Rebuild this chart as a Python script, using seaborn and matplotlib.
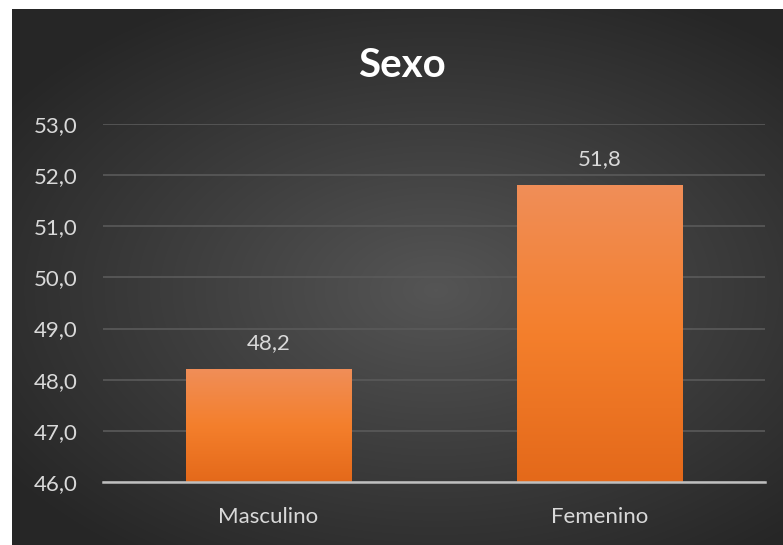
import numpy as np
import pandas as pd
import matplotlib
matplotlib.use("Agg")
import matplotlib.pyplot as plt
import seaborn as sns
from matplotlib.colors import LinearSegmentedColormap

categorias = ["Masculino", "Femenino"]
valores = [48.2, 51.8]
etiquetas_y = ["46,0", "47,0", "48,0", "49,0", "50,0", "51,0", "52,0", "53,0"]
titulo = "Sexo"

sns.set_theme(style="white")
plt.rcParams["font.family"] = ["Lato", "DejaVu Sans"]

W, H = 783, 545
fig = plt.figure(figsize=(W / 100, H / 100), dpi=100, facecolor="white")

# dark panel with a radial gradient, painted pixel by pixel behind the chart
left_margin, top_margin = 12, 9
pw, ph = W - left_margin, H - top_margin
yy, xx = np.mgrid[-1:1:ph * 1j, -1:1:pw * 1j]
r = np.sqrt(((xx - 0.1) * 0.95) ** 2 + ((yy - 0.05) * 1.05) ** 2)
bg_cmap = LinearSegmentedColormap.from_list("panel", ["#555555", "#3d3d3d", "#262626"])
panel = bg_cmap(np.clip(r / 1.3, 0, 1))[..., :3]
canvas = np.ones((H, W, 3))
canvas[top_margin:, left_margin:] = panel
fig.figimage(canvas, xo=0, yo=0, origin="upper", zorder=0)

ax = fig.add_axes([103 / W, 63 / H, 662 / W, 358 / H])
ax.set_zorder(2)
ax.patch.set_alpha(0)

df = pd.DataFrame({"categoria": categorias, "valor": valores})
sns.barplot(data=df, x="categoria", y="valor", ax=ax, width=0.5,
            color="#F07C2A", edgecolor="none", zorder=3)

ax.set_ylim(46, 53)
ax.set_xlim(-0.5, 1.5)

# vertical orange gradient inside each bar
bar_cmap = LinearSegmentedColormap.from_list("bar", ["#E4691A", "#F47F2C", "#F08E58"])
grad = np.linspace(0, 1, 256).reshape(-1, 1)
for patch in ax.patches:
    x0, y0 = patch.get_x(), 46
    x1, y1 = x0 + patch.get_width(), patch.get_y() + patch.get_height()
    im = ax.imshow(grad, cmap=bar_cmap, aspect="auto", origin="lower",
                   extent=(x0, x1, y0, y1), zorder=3)
    im.set_clip_path(patch)
    patch.set_facecolor("none")

for i, v in enumerate(valores):
    ax.annotate(f"{v:.1f}".replace(".", ","), (i, v), xytext=(0, 12),
                textcoords="offset points", ha="center", va="bottom",
                color="#D9D9D9", fontsize=16)

ax.set_yticks(np.arange(46, 54))
ax.set_yticklabels(etiquetas_y)
ax.yaxis.grid(True, color="#5a5a5a", linewidth=1.2, zorder=0)
ax.set_axisbelow(True)

for s in ["top", "right", "left"]:
    ax.spines[s].set_visible(False)
ax.spines["bottom"].set_color("#BFBFBF")
ax.spines["bottom"].set_linewidth(1.8)
ax.spines["bottom"].set_zorder(4)

ax.set_xlabel("")
ax.set_ylabel("")
ax.tick_params(axis="y", length=0, pad=18, labelcolor="#D9D9D9", labelsize=16)
ax.tick_params(axis="x", which="major", length=0, pad=18, labelcolor="#D9D9D9", labelsize=16)
ax.set_xticks([-0.5, 0.5, 1.5], minor=True)
ax.tick_params(axis="x", which="minor", length=7, width=1.5, color="#BFBFBF", direction="out")

fig.text(402 / W, 1 - 77 / H, titulo, ha="center", va="baseline", color="white",
         fontsize=29, fontweight="bold", zorder=3)

fig.savefig("out.png", dpi=100, facecolor="white")
